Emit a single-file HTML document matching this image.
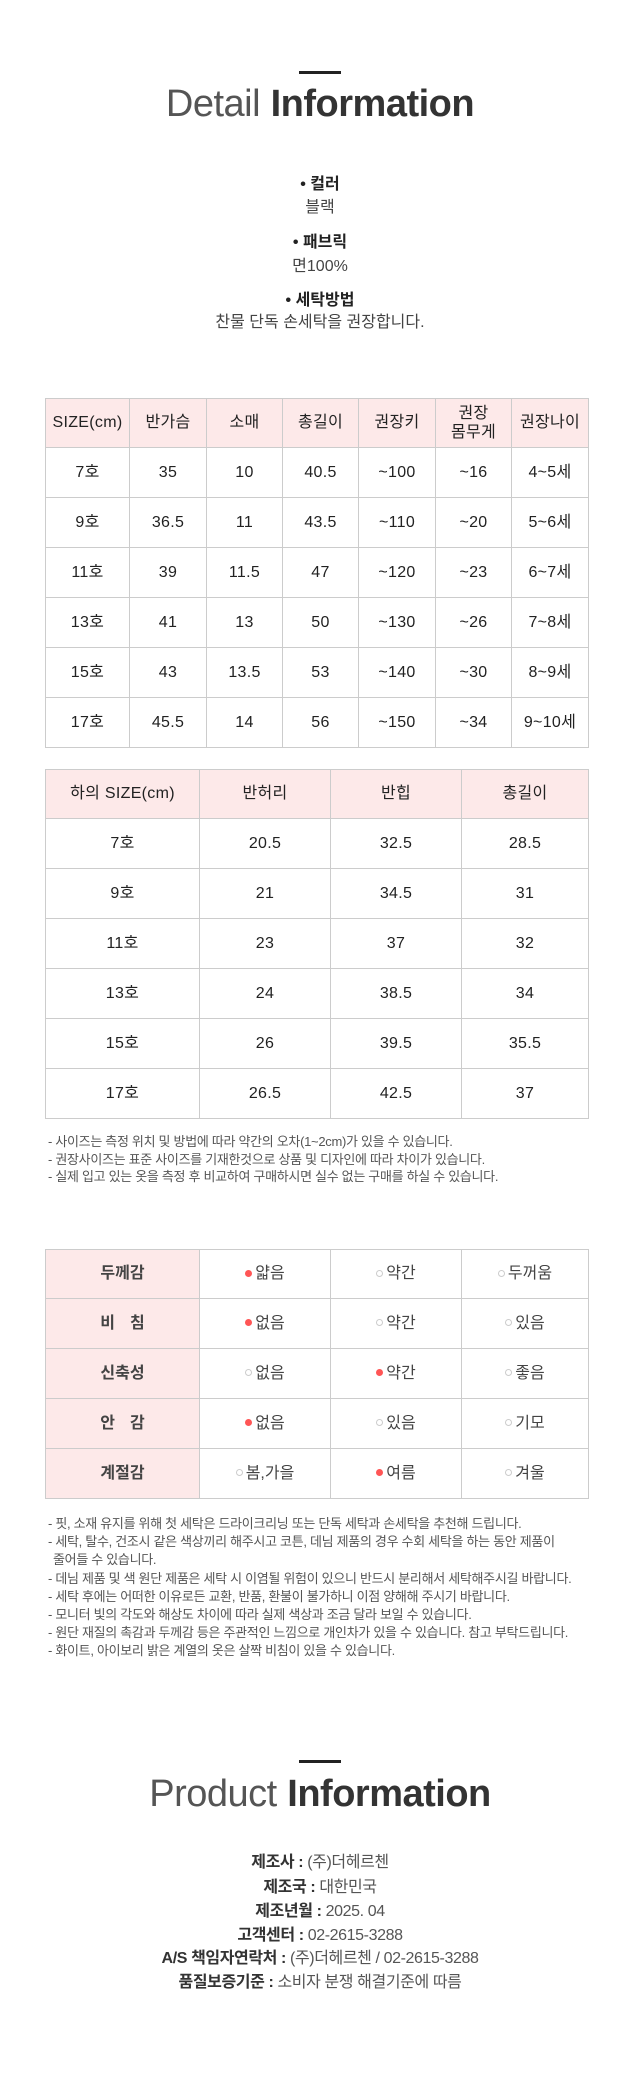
<!DOCTYPE html>
<html>
<head>
<meta charset="utf-8">
<style>
*{margin:0;padding:0;box-sizing:border-box;}
html,body{width:640px;height:2100px;background:#fff;overflow:hidden;}
body{position:relative;font-family:"Liberation Sans","Noto Sans CJK KR",sans-serif;color:#333;}
.bar{position:absolute;left:299px;width:42px;height:3px;background:#222;}
.title{position:absolute;left:0;width:640px;text-align:center;font-size:38px;line-height:38px;white-space:nowrap;}
.title .l{color:#555;font-weight:normal;letter-spacing:-0.5px;}
.title .b{color:#333;font-weight:bold;letter-spacing:-0.5px;}
.c{position:absolute;left:0;width:640px;text-align:center;font-size:16px;line-height:20px;white-space:nowrap;}
.lab{font-weight:bold;color:#222;}
.val{color:#444;}
.grid{position:absolute;left:45px;display:grid;border-top:1px solid #ccc;border-left:1px solid #ccc;}
.grid>div{border-right:1px solid #ccc;border-bottom:1px solid #ccc;display:flex;align-items:center;justify-content:center;font-size:16px;line-height:20px;letter-spacing:0.3px;color:#222;text-align:center;white-space:nowrap;}
.grid>div>span.t{display:block;line-height:20px;height:20px;}
.grid>div.h{background:#fde9e9;}
.grid>div.hb{background:#fde9e9;font-weight:bold;letter-spacing:0;}
.g1{top:398px;grid-template-columns:84px 77px 76px 76px 77px 76px 77px;grid-template-rows:49px repeat(6,50px);}
.g2{top:769px;grid-template-columns:154px 131px 131px 127px;grid-template-rows:49px repeat(6,50px);}
.g3{top:1249px;grid-template-columns:154px 131px 131px 127px;grid-template-rows:49px repeat(4,50px);}
.g3>div{color:#444;letter-spacing:0;}
.grid>div.two{line-height:19px;}
.notes{position:absolute;left:48px;font-size:13px;letter-spacing:-0.3px;color:#555;white-space:nowrap;}
.notes div{height:17.5px;line-height:17.5px;}
.notes2 div{height:18.2px;line-height:18.2px;}
.d{display:inline-block;width:7px;height:7px;border-radius:50%;background:#f55;margin-right:3px;vertical-align:middle;position:relative;top:-1px;}
.e{display:inline-block;width:7px;height:7px;border-radius:50%;border:1px solid #ccc;background:#fff;margin-right:3px;vertical-align:middle;position:relative;top:-1px;}
.sp{display:inline-block;width:15px;}
.info{position:absolute;left:0;width:640px;text-align:center;font-size:16px;line-height:24px;white-space:nowrap;color:#555;letter-spacing:-0.4px;}
.info b{color:#333;}
</style>
</head>
<body>

<div class="bar" style="top:71px;"></div>
<div class="title" style="top:85px;"><span class="l">Detail</span> <span class="b">Information</span></div>

<div class="c lab" style="top:175px;">• 컬러</div>
<div class="c val" style="top:198px;">블랙</div>
<div class="c lab" style="top:233px;">• 패브릭</div>
<div class="c val" style="top:257px;">면100%</div>
<div class="c lab" style="top:291px;">• 세탁방법</div>
<div class="c val" style="top:313px;">찬물 단독 손세탁을 권장합니다.</div>

<div class="grid g1">
  <div class="h">SIZE(cm)</div><div class="h">반가슴</div><div class="h">소매</div><div class="h">총길이</div><div class="h">권장키</div><div class="h two">권장<br>몸무게</div><div class="h">권장나이</div>
  <div>7호</div><div>35</div><div>10</div><div>40.5</div><div>~100</div><div>~16</div><div>4~5세</div>
  <div>9호</div><div>36.5</div><div>11</div><div>43.5</div><div>~110</div><div>~20</div><div>5~6세</div>
  <div>11호</div><div>39</div><div>11.5</div><div>47</div><div>~120</div><div>~23</div><div>6~7세</div>
  <div>13호</div><div>41</div><div>13</div><div>50</div><div>~130</div><div>~26</div><div>7~8세</div>
  <div>15호</div><div>43</div><div>13.5</div><div>53</div><div>~140</div><div>~30</div><div>8~9세</div>
  <div>17호</div><div>45.5</div><div>14</div><div>56</div><div>~150</div><div>~34</div><div>9~10세</div>
</div>

<div class="grid g2">
  <div class="h">하의 SIZE(cm)</div><div class="h">반허리</div><div class="h">반힙</div><div class="h">총길이</div>
  <div>7호</div><div>20.5</div><div>32.5</div><div>28.5</div>
  <div>9호</div><div>21</div><div>34.5</div><div>31</div>
  <div>11호</div><div>23</div><div>37</div><div>32</div>
  <div>13호</div><div>24</div><div>38.5</div><div>34</div>
  <div>15호</div><div>26</div><div>39.5</div><div>35.5</div>
  <div>17호</div><div>26.5</div><div>42.5</div><div>37</div>
</div>

<div class="notes" style="top:1133px;">
  <div>- 사이즈는 측정 위치 및 방법에 따라 약간의 오차(1~2cm)가 있을 수 있습니다.</div>
  <div>- 권장사이즈는 표준 사이즈를 기재한것으로 상품 및 디자인에 따라 차이가 있습니다.</div>
  <div>- 실제 입고 있는 옷을 측정 후 비교하여 구매하시면 실수 없는 구매를 하실 수 있습니다.</div>
</div>

<div class="grid g3">
  <div class="hb">두께감</div><div><span class="d"></span>얇음</div><div><span class="e"></span>약간</div><div><span class="e"></span>두꺼움</div>
  <div class="hb">비<span class="sp"></span>침</div><div><span class="d"></span>없음</div><div><span class="e"></span>약간</div><div><span class="e"></span>있음</div>
  <div class="hb">신축성</div><div><span class="e"></span>없음</div><div><span class="d"></span>약간</div><div><span class="e"></span>좋음</div>
  <div class="hb">안<span class="sp"></span>감</div><div><span class="d"></span>없음</div><div><span class="e"></span>있음</div><div><span class="e"></span>기모</div>
  <div class="hb">계절감</div><div><span class="e"></span>봄,가을</div><div><span class="d"></span>여름</div><div><span class="e"></span>겨울</div>
</div>

<div class="notes notes2" style="top:1515px;">
  <div>- 핏, 소재 유지를 위해 첫 세탁은 드라이크리닝 또는 단독 세탁과 손세탁을 추천해 드립니다.</div>
  <div>- 세탁, 탈수, 건조시 같은 색상끼리 해주시고 코튼, 데님 제품의 경우 수회 세탁을 하는 동안 제품이</div>
  <div style="padding-left:5px;">줄어들 수 있습니다.</div>
  <div>- 데님 제품 및 색 원단 제품은 세탁 시 이염될 위험이 있으니 반드시 분리해서 세탁해주시길 바랍니다.</div>
  <div>- 세탁 후에는 어떠한 이유로든 교환, 반품, 환불이 불가하니 이점 양해해 주시기 바랍니다.</div>
  <div>- 모니터 빛의 각도와 해상도 차이에 따라 실제 색상과 조금 달라 보일 수 있습니다.</div>
  <div>- 원단 재질의 촉감과 두께감 등은 주관적인 느낌으로 개인차가 있을 수 있습니다. 참고 부탁드립니다.</div>
  <div>- 화이트, 아이보리 밝은 계열의 옷은 살짝 비침이 있을 수 있습니다.</div>
</div>

<div class="bar" style="top:1760px;"></div>
<div class="title" style="top:1775px;"><span class="l">Product</span> <span class="b">Information</span></div>

<div class="info" style="top:1851px;"><b>제조사 :</b> (주)더헤르첸</div>
<div class="info" style="top:1876px;"><b>제조국 :</b> 대한민국</div>
<div class="info" style="top:1900px;"><b>제조년월 :</b> 2025. 04</div>
<div class="info" style="top:1924px;"><b>고객센터 :</b> 02-2615-3288</div>
<div class="info" style="top:1947px;"><b>A/S 책임자연락처 :</b> (주)더헤르첸 / 02-2615-3288</div>
<div class="info" style="top:1971px;"><b>품질보증기준 :</b> 소비자 분쟁 해결기준에 따름</div>

</body>
</html>
